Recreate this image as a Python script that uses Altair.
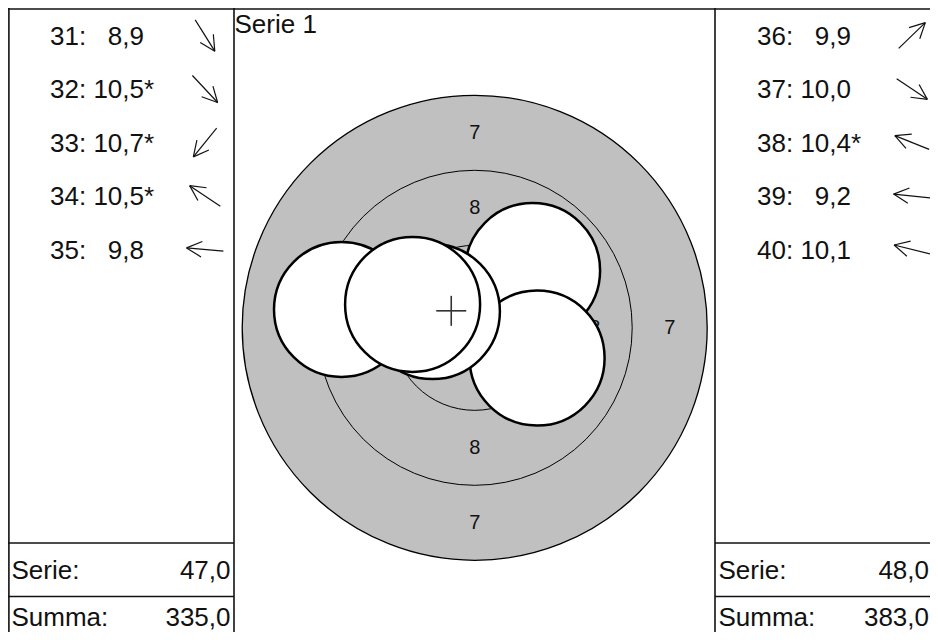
import altair as alt
import numpy as np
import pandas as pd

# ---------------- data ----------------
shot_no = [31, 32, 33, 34, 35, 36, 37, 38, 39, 40]
shot_score = [8.9, 10.5, 10.7, 10.5, 9.8, 9.9, 10.0, 10.4, 9.2, 10.1]
inner_ten = [False, True, True, True, False, False, False, True, False, False]
arrow_deg = [-58, -47, -129, 146, 175, 44, -34, 158, 174, 166]

panel_names = ["left", "right"]
series_total = [47.0, 48.0]
running_total = [335.0, 383.0]
total_labels = ["Serie:", "Summa:"]

# shots on the target (shots 36-40), mm from the centre, y upwards
target_shot_no = [36, 37, 38, 39, 40]
shot_x_mm = [1.93, 2.08, -1.41, -4.44, -2.07]
shot_y_mm = [1.91, -1.01, 0.54, 0.61, 0.78]
pellet_mm = 4.5

ring_value = [7, 8, 9, 10]
ring_diam_mm = [15.5, 10.5, 5.5, 0.5]
label_ring = [7, 8]
label_radius_mm = [6.5, 4.0]

series_title = "Serie 1"

# ---------------- layout ----------------
W, H = 922, 624           # visible page area without scrolling
PX = 30.0                 # pixels per mm on the target
CX, CY = 474.7, 327.8     # target centre (page pixels)
ROW_H = 53.5
TOP = 8.0
PANEL_W = 226
PANEL_LEFT = {"left": 8.0, "right": 715.0}
MID_L, MID_R = 234.0, 715.0
LABEL_DX, VALUE_DX, ARROW_DX = 42.0, 136.0, 197.0
BASE_DY, ARROW_DY = 36.5, 27.5
TOTAL_BASE_DY = [36.0, 29.0]
ARROW_HALF, BARB_LEN, BARB_DEG = 18.5, 17.0, 27.0
CROSS_HALF_MM = 0.5
FONT = "Liberation Sans, Arial, Helvetica, sans-serif"
FS = 26
GREY = "#c0c0c0"

XS = alt.Scale(domain=[8, 8 + W], range=[0, W], nice=False, zero=False)
YS = alt.Scale(domain=[8, 8 + H], range=[0, H], nice=False, zero=False)
SIZE = alt.Scale(type="pow", exponent=2, domain=[0, 20], range=[0, (20 * PX) ** 2])


def fmt(v):
    return f"{v:.1f}".replace(".", ",")


def X(f="x"):
    return alt.X(f"{f}:Q", scale=XS, axis=None)


def Y(f="y"):
    return alt.Y(f"{f}:Q", scale=YS, axis=None)


# ---------------- grid lines ----------------
grid = []
grid.append((8, 9.0, 8 + W, 9.0))
for gx in (8.9, MID_L, MID_R):
    grid.append((gx, 8, gx, 8 + H))
for k in (10, 11):
    gy = TOP + k * ROW_H
    grid.append((8, gy, MID_L, gy))
    grid.append((MID_R, gy, 8 + W, gy))
grid_df = pd.DataFrame(grid, columns=["x", "y", "x2", "y2"])
grid_layer = alt.Chart(grid_df).mark_rule(color="#111", strokeWidth=1.6).encode(
    x=X(), y=Y(), x2="x2:Q", y2="y2:Q")

# ---------------- target ----------------
rings_df = pd.DataFrame({"ring": ring_value, "diam": ring_diam_mm})
rings_df["x"] = CX
rings_df["y"] = CY
disk = alt.Chart(rings_df[rings_df.ring == 7]).mark_point(
    shape="circle", filled=True, fill=GREY, stroke="black", strokeWidth=1.3,
    opacity=1, fillOpacity=1).encode(
    x=X(), y=Y(), size=alt.Size("diam:Q", scale=SIZE, legend=None))
outlines = alt.Chart(rings_df[rings_df.ring.isin([8, 9])]).mark_point(
    shape="circle", filled=False, stroke="black", strokeWidth=1.0, opacity=1).encode(
    x=X(), y=Y(), size=alt.Size("diam:Q", scale=SIZE, legend=None))
ten = alt.Chart(rings_df[rings_df.ring == 10]).mark_point(
    shape="circle", filled=True, fill="white", strokeWidth=0, opacity=1).encode(
    x=X(), y=Y(), size=alt.Size("diam:Q", scale=SIZE, legend=None))

lab = []
for r, rad in zip(label_ring, label_radius_mm):
    for dx, dy in ((0, -1), (0, 1), (-1, 0), (1, 0)):
        lab.append(dict(t=str(r), x=CX + dx * rad * PX, y=CY + dy * rad * PX))
lab_df = pd.DataFrame(lab)
ring_labels = alt.Chart(lab_df).mark_text(
    font=FONT, fontSize=20, color="#111", align="center", baseline="middle").encode(
    x=X(), y=Y(), text="t:N")

shots_df = pd.DataFrame({"n": target_shot_no, "xm": shot_x_mm, "ym": shot_y_mm})
shots_df["x"] = CX + shots_df.xm * PX
shots_df["y"] = CY - shots_df.ym * PX
shots_df["diam"] = pellet_mm
shots = alt.Chart(shots_df).mark_point(
    shape="circle", filled=True, fill="white", stroke="black", strokeWidth=2.5,
    opacity=1, fillOpacity=1, strokeOpacity=1).encode(
    x=X(), y=Y(), size=alt.Size("diam:Q", scale=SIZE, legend=None),
    order=alt.Order("n:Q"))

mx, my = shots_df.x.mean(), shots_df.y.mean()
h = CROSS_HALF_MM * PX
cross_df = pd.DataFrame([(mx - h, my, mx + h, my), (mx, my - h, mx, my + h)],
                        columns=["x", "y", "x2", "y2"])
cross = alt.Chart(cross_df).mark_rule(color="#333", strokeWidth=1.6).encode(
    x=X(), y=Y(), x2="x2:Q", y2="y2:Q")

title_df = pd.DataFrame({"t": [series_title], "x": [MID_L + 0.5], "y": [TOP + 25.3]})
title = alt.Chart(title_df).mark_text(
    font=FONT, fontSize=FS, color="#111", align="left", baseline="alphabetic").encode(
    x=X(), y=Y(), text="t:N")

# ---------------- side tables ----------------
rows, segs = [], []
for i, (n, s, star, a) in enumerate(zip(shot_no, shot_score, inner_ten, arrow_deg)):
    panel = panel_names[0] if i < 5 else panel_names[1]
    p0 = PANEL_LEFT[panel]
    top = TOP + (i % 5) * ROW_H
    rows.append(dict(label=f"{n}:", value=fmt(s), star="*" if star else "",
                     lx=p0 + LABEL_DX, vx=p0 + VALUE_DX, y=top + BASE_DY))
    ax, ay = p0 + ARROW_DX, top + ARROW_DY
    t = np.radians(a)
    ux, uy = np.cos(t), -np.sin(t)
    hx, hy = ax + ux * ARROW_HALF, ay + uy * ARROW_HALF
    segs.append((ax - ux * ARROW_HALF, ay - uy * ARROW_HALF, hx, hy))
    for sgn in (1, -1):
        b = t + np.pi + sgn * np.radians(BARB_DEG)
        segs.append((hx, hy, hx + np.cos(b) * BARB_LEN, hy - np.sin(b) * BARB_LEN))
rows_df = pd.DataFrame(rows)
segs_df = pd.DataFrame(segs, columns=["x", "y", "x2", "y2"])

txt = dict(font=FONT, fontSize=FS, color="#111", baseline="alphabetic")
labels = alt.Chart(rows_df).mark_text(align="left", **txt).encode(
    x=X("lx"), y=Y(), text="label:N")
values = alt.Chart(rows_df).mark_text(align="right", **txt).encode(
    x=X("vx"), y=Y(), text="value:N")
stars = alt.Chart(rows_df).mark_text(align="left", **txt).encode(
    x=X("vx"), y=Y(), text="star:N")
arrows = alt.Chart(segs_df).mark_rule(color="#111", strokeWidth=1.2).encode(
    x=X(), y=Y(), x2="x2:Q", y2="y2:Q")

tot = []
for panel, st, rt in zip(panel_names, series_total, running_total):
    p0 = PANEL_LEFT[panel]
    for k, (lbl, v) in enumerate(zip(total_labels, (st, rt))):
        gy = TOP + (10 + k) * ROW_H + TOTAL_BASE_DY[k]
        tot.append(dict(label=lbl, value=fmt(v), lx=p0 + 3.5,
                        vx=min(p0 + PANEL_W - 3.5, 8 + W - 1.0), y=gy))
tot_df = pd.DataFrame(tot)
tot_labels = alt.Chart(tot_df).mark_text(align="left", **txt).encode(
    x=X("lx"), y=Y(), text="label:N")
tot_values = alt.Chart(tot_df).mark_text(align="right", **txt).encode(
    x=X("vx"), y=Y(), text="value:N")

chart = alt.layer(
    disk, outlines, ten, ring_labels, shots, cross, title,
    labels, values, stars, arrows, tot_labels, tot_values, grid_layer
).properties(
    width=W, height=H, padding=0,
    autosize=alt.AutoSizeParams(type="none"),
).configure_view(stroke=None)

chart.save("out.html", embed_options={"renderer": "svg", "actions": False})
